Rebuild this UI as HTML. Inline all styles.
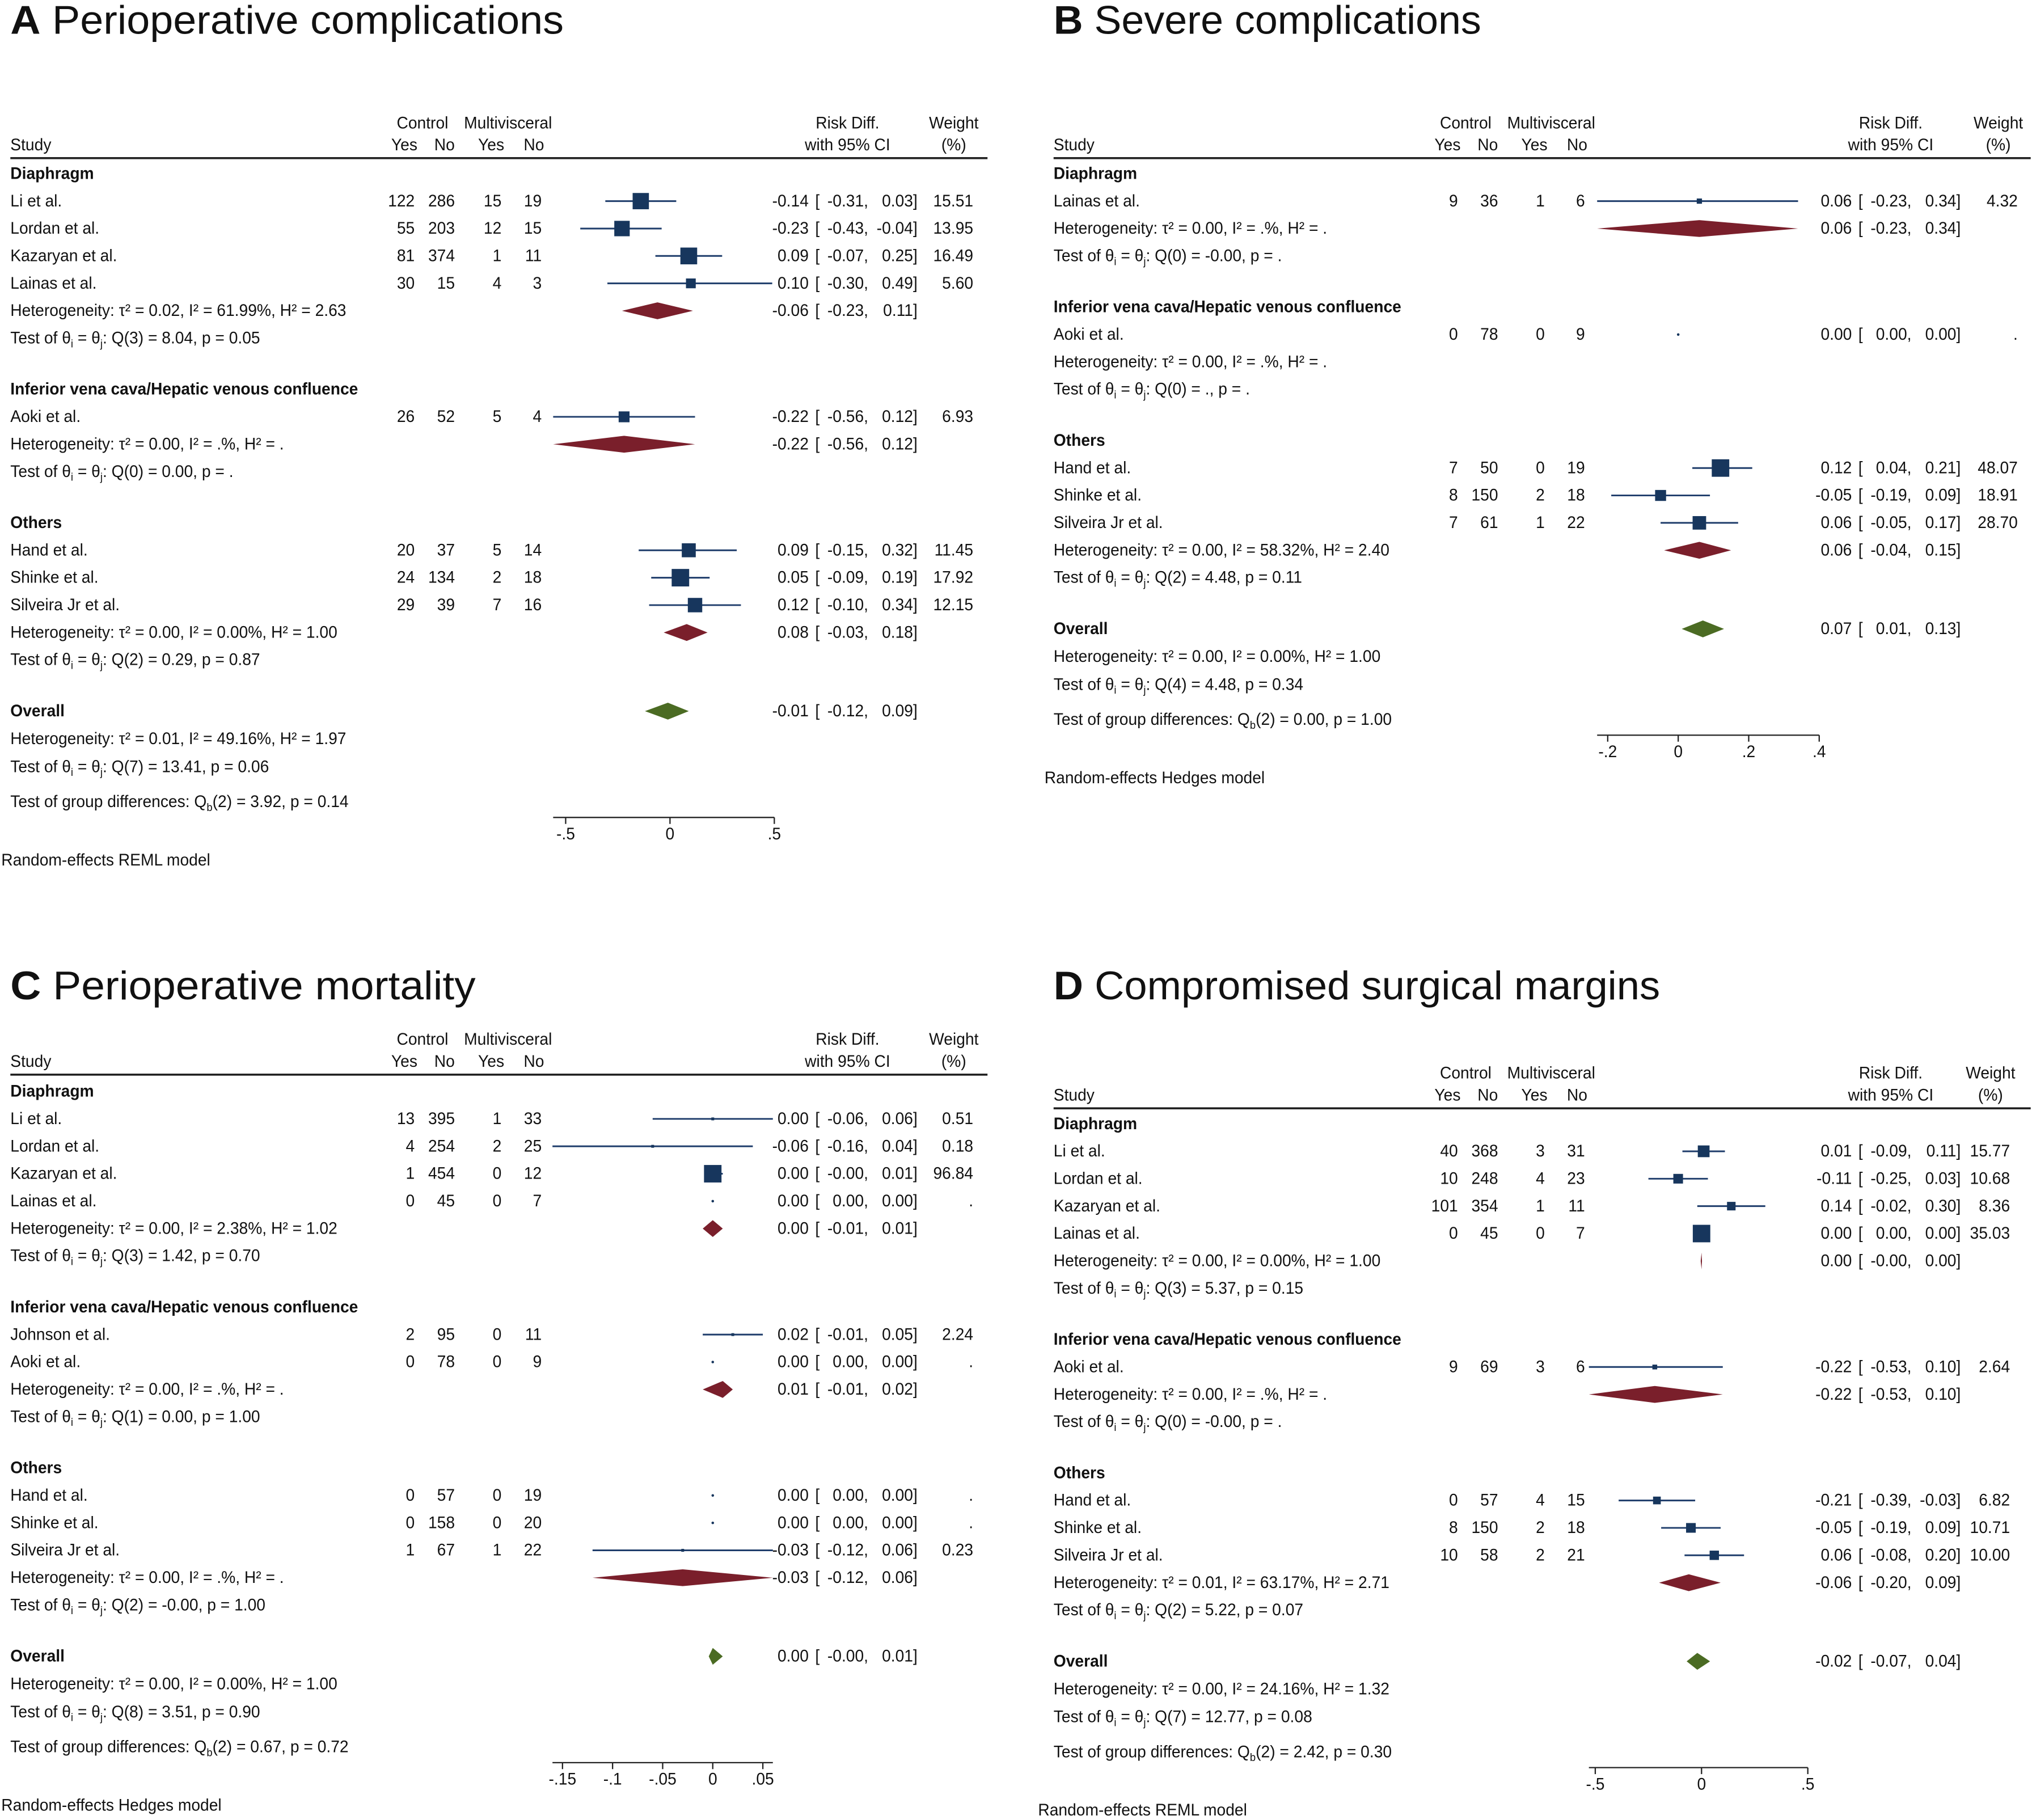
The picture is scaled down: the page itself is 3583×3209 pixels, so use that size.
<!DOCTYPE html>
<html><head><meta charset="utf-8"><style>
html,body{margin:0;padding:0;background:#fff;}
svg{display:block;}
text{font-family:"Liberation Sans",Arial,sans-serif;fill:#111;}
.title{font-family:"Liberation Sans",Arial,sans-serif;}
</style></head><body>
<svg id="chart" xmlns="http://www.w3.org/2000/svg" width="3583" height="3209" viewBox="0 0 1568 1404" preserveAspectRatio="none"></svg>
<script>
// ---------- Panel A data ----------
const A_studies=["Li et al.","Lordan et al.","Kazaryan et al.","Lainas et al.","Aoki et al.","Hand et al.","Shinke et al.","Silveira Jr et al."];
const A_group=[0,0,0,0,1,2,2,2];
const A_ctlYes=[122,55,81,30,26,20,24,29];
const A_ctlNo=[286,203,374,15,52,37,134,39];
const A_mvYes=[15,12,1,4,5,5,2,7];
const A_mvNo=[19,15,11,3,4,14,18,16];
const A_rd=[-0.14,-0.23,0.09,0.10,-0.22,0.09,0.05,0.12];
const A_lo=[-0.31,-0.43,-0.07,-0.30,-0.56,-0.15,-0.09,-0.10];
const A_hi=[0.03,-0.04,0.25,0.49,0.12,0.32,0.19,0.34];
const A_wt=[15.51,13.95,16.49,5.60,6.93,11.45,17.92,12.15];
const A_groupNames=["Diaphragm","Inferior vena cava/Hepatic venous confluence","Others"];
const A_grpRd=[-0.06,-0.22,0.08];
const A_grpLo=[-0.23,-0.56,-0.03];
const A_grpHi=[0.11,0.12,0.18];
const A_grpHet=["τ² = 0.02, I² = 61.99%, H² = 2.63","τ² = 0.00, I² = .%, H² = .","τ² = 0.00, I² = 0.00%, H² = 1.00"];
const A_grpTest=["Q(3) = 8.04, p = 0.05","Q(0) = 0.00, p = .","Q(2) = 0.29, p = 0.87"];
const A_overall=[-0.01,-0.12,0.09];
const A_overallHet="τ² = 0.01, I² = 49.16%, H² = 1.97";
const A_overallTest="Q(7) = 13.41, p = 0.06";
const A_groupDiff="(2) = 3.92, p = 0.14";
const A_model="Random-effects REML model";
const A_ticks=[-0.5,0,0.5];
const A_tickLabels=["-.5","0",".5"];

// ---------- Panel B data ----------
const B_studies=["Lainas et al.","Aoki et al.","Hand et al.","Shinke et al.","Silveira Jr et al."];
const B_group=[0,1,2,2,2];
const B_ctlYes=[9,0,7,8,7];
const B_ctlNo=[36,78,50,150,61];
const B_mvYes=[1,0,0,2,1];
const B_mvNo=[6,9,19,18,22];
const B_rd=[0.06,0.00,0.12,-0.05,0.06];
const B_lo=[-0.23,0.00,0.04,-0.19,-0.05];
const B_hi=[0.34,0.00,0.21,0.09,0.17];
const B_wt=[4.32,null,48.07,18.91,28.70];
const B_groupNames=["Diaphragm","Inferior vena cava/Hepatic venous confluence","Others"];
const B_grpRd=[0.06,null,0.06];
const B_grpLo=[-0.23,null,-0.04];
const B_grpHi=[0.34,null,0.15];
const B_grpHet=["τ² = 0.00, I² = .%, H² = .","τ² = 0.00, I² = .%, H² = .","τ² = 0.00, I² = 58.32%, H² = 2.40"];
const B_grpTest=["Q(0) = -0.00, p = .","Q(0) = ., p = .","Q(2) = 4.48, p = 0.11"];
const B_overall=[0.07,0.01,0.13];
const B_overallHet="τ² = 0.00, I² = 0.00%, H² = 1.00";
const B_overallTest="Q(4) = 4.48, p = 0.34";
const B_groupDiff="(2) = 0.00, p = 1.00";
const B_model="Random-effects Hedges model";
const B_ticks=[-0.2,0,0.2,0.4];
const B_tickLabels=["-.2","0",".2",".4"];

// ---------- Panel C data ----------
const C_studies=["Li et al.","Lordan et al.","Kazaryan et al.","Lainas et al.","Johnson et al.","Aoki et al.","Hand et al.","Shinke et al.","Silveira Jr et al."];
const C_group=[0,0,0,0,1,1,2,2,2];
const C_ctlYes=[13,4,1,0,2,0,0,0,1];
const C_ctlNo=[395,254,454,45,95,78,57,158,67];
const C_mvYes=[1,2,0,0,0,0,0,0,1];
const C_mvNo=[33,25,12,7,11,9,19,20,22];
const C_rd=[0.00,-0.06,0.00,0.00,0.02,0.00,0.00,0.00,-0.03];
const C_lo=[-0.06,-0.16,-0.004,0.00,-0.01,0.00,0.00,0.00,-0.12];
const C_hi=[0.06,0.04,0.01,0.00,0.05,0.00,0.00,0.00,0.06];
const C_wt=[0.51,0.18,96.84,null,2.24,null,null,null,0.23];
const C_groupNames=["Diaphragm","Inferior vena cava/Hepatic venous confluence","Others"];
const C_grpRd=[0.00,0.01,-0.03];
const C_grpLo=[-0.01,-0.01,-0.12];
const C_grpHi=[0.01,0.02,0.06];
const C_grpHet=["τ² = 0.00, I² = 2.38%, H² = 1.02","τ² = 0.00, I² = .%, H² = .","τ² = 0.00, I² = .%, H² = ."];
const C_grpTest=["Q(3) = 1.42, p = 0.70","Q(1) = 0.00, p = 1.00","Q(2) = -0.00, p = 1.00"];
const C_overall=[0.00,-0.004,0.01];
const C_overallHet="τ² = 0.00, I² = 0.00%, H² = 1.00";
const C_overallTest="Q(8) = 3.51, p = 0.90";
const C_groupDiff="(2) = 0.67, p = 0.72";
const C_model="Random-effects Hedges model";
const C_ticks=[-0.15,-0.1,-0.05,0,0.05];
const C_tickLabels=["-.15","-.1","-.05","0",".05"];

// ---------- Panel D data ----------
const D_studies=["Li et al.","Lordan et al.","Kazaryan et al.","Lainas et al.","Aoki et al.","Hand et al.","Shinke et al.","Silveira Jr et al."];
const D_group=[0,0,0,0,1,2,2,2];
const D_ctlYes=[40,10,101,0,9,0,8,10];
const D_ctlNo=[368,248,354,45,69,57,150,58];
const D_mvYes=[3,4,1,0,3,4,2,2];
const D_mvNo=[31,23,11,7,6,15,18,21];
const D_rd=[0.01,-0.11,0.14,0.00,-0.22,-0.21,-0.05,0.06];
const D_lo=[-0.09,-0.25,-0.02,0.00,-0.53,-0.39,-0.19,-0.08];
const D_hi=[0.11,0.03,0.30,0.00,0.10,-0.03,0.09,0.20];
const D_wt=[15.77,10.68,8.36,35.03,2.64,6.82,10.71,10.00];
const D_groupNames=["Diaphragm","Inferior vena cava/Hepatic venous confluence","Others"];
const D_grpRd=[0.00,-0.22,-0.06];
const D_grpLo=[-0.004,-0.53,-0.20];
const D_grpHi=[0.00,0.10,0.09];
const D_grpHet=["τ² = 0.00, I² = 0.00%, H² = 1.00","τ² = 0.00, I² = .%, H² = .","τ² = 0.01, I² = 63.17%, H² = 2.71"];
const D_grpTest=["Q(3) = 5.37, p = 0.15","Q(0) = -0.00, p = .","Q(2) = 5.22, p = 0.07"];
const D_overall=[-0.02,-0.07,0.04];
const D_overallHet="τ² = 0.00, I² = 24.16%, H² = 1.32";
const D_overallTest="Q(7) = 12.77, p = 0.08";
const D_groupDiff="(2) = 2.42, p = 0.30";
const D_model="Random-effects REML model";
const D_ticks=[-0.5,0,0.5];
const D_tickLabels=["-.5","0",".5"];

const NS="http://www.w3.org/2000/svg";
const svg=document.getElementById("chart");
const S=21.15, GAP=39.5, SX=0.95, FS=13;
const SQ="#17365d", CI="#1f3d6b", RED="#7a1f2b", GREEN="#4b6b23";

function mk(tag,attrs,name,parent){
  const e=document.createElementNS(NS,tag);
  for(const k in attrs) e.setAttribute(k,attrs[k]);
  
  
  (parent||svg).appendChild(e);
  return e;
}
function T(x,y,str,name,opt){
  opt=opt||{};
  const t=mk("text",{transform:`translate(${x},${y}) scale(${opt.sx||SX},1)`,"text-anchor":opt.anchor||"start","font-size":opt.size||FS,"font-weight":opt.bold?"bold":"normal"},name,opt.parent);
  t.textContent=str;
  return t;
}
function testText(x,y,rest,name,prefix,sub1,mid,sub2){
  const t=mk("text",{transform:`translate(${x},${y}) scale(${SX},1)`,"font-size":FS},name);
  const parts=[[prefix,0,FS],[sub1,3,8.5],[mid,-3,FS],[sub2,3,8.5],[rest,-3,FS]];
  parts.forEach(p=>{ if(p[0]===null) return; const s=document.createElementNS(NS,"tspan"); s.setAttribute("dy",p[1]); s.setAttribute("font-size",p[2]); s.textContent=p[0]; t.appendChild(s);});
  return t;
}
function f2(v){return v.toFixed(2);}

function drawPanel(c,d){
  const g=mk("g",{},"panel-"+c.id.toLowerCase());
  const ox=c.ox;
  const X=v=>c.x0+v*c.ppu;
  const tt=mk("text",{x:ox+8,y:c.titleY,"font-size":31,textLength:c.titleW,lengthAdjust:"spacingAndGlyphs",class:"title"},"panel-title",g);
  const tb=document.createElementNS(NS,"tspan"); tb.setAttribute("font-weight","bold"); tb.textContent=c.id; tt.appendChild(tb);
  const tr=document.createElementNS(NS,"tspan"); tr.textContent=" "+c.title; tt.appendChild(tr);
  const h1=c.headY, h2=c.headY+17;
  T(ox+326,h1,"Control","header-control",{anchor:"middle",parent:g});
  T(ox+392,h1,"Multivisceral","header-multivisceral",{anchor:"middle",parent:g});
  T(ox+8,h2,"Study","header-study",{parent:g});
  [["Yes",312],["No",343],["Yes",379],["No",412]].forEach(p=>T(ox+p[1],h2,p[0],"header-yes-no",{anchor:"middle",parent:g}));
  T(ox+654,h1,"Risk Diff.","header-risk-diff",{anchor:"middle",parent:g});
  T(ox+654,h2,"with 95% CI","header-ci",{anchor:"middle",parent:g});
  T(ox+c.wx-15,h1,"Weight","header-weight",{anchor:"middle",parent:g});
  T(ox+c.wx-15,h2,"(%)","header-weight-unit",{anchor:"middle",parent:g});
  mk("line",{x1:ox+8,x2:ox+762,y1:h2+6,y2:h2+6,stroke:"#222","stroke-width":1.6},"header-rule",g);

  const ws=d.wt.filter(w=>w!=null); const maxW=Math.max(...ws);
  function est(y,r,l,h,name){
    T(ox+624,y,f2(r),name+"-estimate",{anchor:"end",parent:g});
    T(ox+629,y,"[","bracket",{parent:g});
    T(ox+670,y,f2(l)+",","ci-lower",{anchor:"end",parent:g});
    T(ox+708,y,f2(h)+"]","ci-upper",{anchor:"end",parent:g});
  }
  function diamond(y,r,l,h,col,name){
    const xl=X(l), xr=Math.max(X(h),xl+1), xm=X(r), hh=6.5;
    mk("polygon",{points:`${xl},${y} ${xm},${y-hh} ${xr},${y} ${xm},${y+hh}`,fill:col},name,g);
  }
  let y=c.firstY;
  const cols=[320,351,387,418];
  for(let gi=0;gi<d.groupNames.length;gi++){
    T(ox+8,y+4,d.groupNames[gi],"group-label",{bold:true,parent:g});
    y+=S;
    for(let i=0;i<d.studies.length;i++){
      if(d.group[i]!==gi) continue;
      T(ox+8,y+4,d.studies[i],"study-name",{parent:g});
      [d.ctlYes[i],d.ctlNo[i],d.mvYes[i],d.mvNo[i]].forEach((v,k)=>T(ox+cols[k],y+4,String(v),"count-cell",{anchor:"end",parent:g}));
      if(d.hi[i]>d.lo[i]) mk("line",{x1:X(d.lo[i]),x2:X(d.hi[i]),y1:y,y2:y,stroke:CI,"stroke-width":1.3},"ci-line",g);
      if(d.wt[i]!=null){
        const s=Math.max(2.2,13.5*Math.sqrt(d.wt[i]/maxW));
        mk("rect",{x:X(d.rd[i])-s/2,y:y-s/2,width:s,height:s,fill:SQ},"study-marker",g);
      } else {
        mk("circle",{cx:X(d.rd[i]),cy:y,r:1,fill:SQ},"study-dot",g);
      }
      est(y+4,d.rd[i],d.lo[i],d.hi[i],"study");
      T(ox+c.wx,y+4,d.wt[i]==null?".":f2(d.wt[i]),"weight-cell",{anchor:"end",parent:g});
      y+=S;
    }
    T(ox+8,y+4,"Heterogeneity: "+d.grpHet[gi],"group-heterogeneity",{parent:g});
    if(d.grpRd[gi]!=null){ diamond(y,d.grpRd[gi],d.grpLo[gi],d.grpHi[gi],RED,"subgroup-diamond"); est(y+4,d.grpRd[gi],d.grpLo[gi],d.grpHi[gi],"subgroup"); }
    y+=S;
    testText(ox+8,y+4,": "+d.grpTest[gi],"group-homogeneity-test","Test of θ","i"," = θ","j");
    y+=GAP;
  }
  T(ox+8,y+4,"Overall","overall-label",{bold:true,parent:g});
  diamond(y,d.overall[0],d.overall[1],d.overall[2],GREEN,"overall-diamond");
  est(y+4,d.overall[0],d.overall[1],d.overall[2],"overall");
  y+=21.5; T(ox+8,y+4,"Heterogeneity: "+d.overallHet,"overall-heterogeneity",{parent:g});
  y+=21.5; testText(ox+8,y+4,": "+d.overallTest,"overall-homogeneity-test","Test of θ","i"," = θ","j");
  y+=27; testText(ox+8,y+4,d.groupDiff,"group-difference-test","Test of group differences: Q","b","",null);
  y+=12;
  const allLo=Math.min(...d.lo,...d.grpLo.filter(v=>v!=null),d.ticks[0]);
  const allHi=Math.max(...d.hi,...d.grpHi.filter(v=>v!=null),d.ticks[d.ticks.length-1]);
  mk("line",{x1:X(allLo),x2:X(allHi),y1:y,y2:y,stroke:"#222","stroke-width":1},"x-axis",g);
  d.ticks.forEach((v,k)=>{
    mk("line",{x1:X(v),x2:X(v),y1:y,y2:y+5,stroke:"#222","stroke-width":1},"x-tick",g);
    T(X(v),y+17,d.tickLabels[k],"x-tick-label",{anchor:"middle",parent:g});
  });
  T(ox+c.modelX,y+37,d.model,"model-note",{parent:g});
}

drawPanel({id:"A",title:"Perioperative complications",ox:0,titleY:26,titleW:427,headY:99,firstY:134,x0:517,ppu:161,wx:751,modelX:1},
 {studies:A_studies,group:A_group,ctlYes:A_ctlYes,ctlNo:A_ctlNo,mvYes:A_mvYes,mvNo:A_mvNo,rd:A_rd,lo:A_lo,hi:A_hi,wt:A_wt,groupNames:A_groupNames,grpRd:A_grpRd,grpLo:A_grpLo,grpHi:A_grpHi,grpHet:A_grpHet,grpTest:A_grpTest,overall:A_overall,overallHet:A_overallHet,overallTest:A_overallTest,groupDiff:A_groupDiff,model:A_model,ticks:A_ticks,tickLabels:A_tickLabels});
drawPanel({id:"B",title:"Severe complications",ox:805,titleY:26,titleW:330,headY:99,firstY:134,x0:1295,ppu:272,wx:752,modelX:1},
 {studies:B_studies,group:B_group,ctlYes:B_ctlYes,ctlNo:B_ctlNo,mvYes:B_mvYes,mvNo:B_mvNo,rd:B_rd,lo:B_lo,hi:B_hi,wt:B_wt,groupNames:B_groupNames,grpRd:B_grpRd,grpLo:B_grpLo,grpHi:B_grpHi,grpHet:B_grpHet,grpTest:B_grpTest,overall:B_overall,overallHet:B_overallHet,overallTest:B_overallTest,groupDiff:B_groupDiff,model:B_model,ticks:B_ticks,tickLabels:B_tickLabels});
drawPanel({id:"C",title:"Perioperative mortality",ox:0,titleY:771,titleW:359,headY:806,firstY:842,x0:550,ppu:773,wx:751,modelX:1},
 {studies:C_studies,group:C_group,ctlYes:C_ctlYes,ctlNo:C_ctlNo,mvYes:C_mvYes,mvNo:C_mvNo,rd:C_rd,lo:C_lo,hi:C_hi,wt:C_wt,groupNames:C_groupNames,grpRd:C_grpRd,grpLo:C_grpLo,grpHi:C_grpHi,grpHet:C_grpHet,grpTest:C_grpTest,overall:C_overall,overallHet:C_overallHet,overallTest:C_overallTest,groupDiff:C_groupDiff,model:C_model,ticks:C_ticks,tickLabels:C_tickLabels});
drawPanel({id:"D",title:"Compromised surgical margins",ox:805,titleY:771,titleW:468,headY:832,firstY:867,x0:1313,ppu:164,wx:746,modelX:-4},
 {studies:D_studies,group:D_group,ctlYes:D_ctlYes,ctlNo:D_ctlNo,mvYes:D_mvYes,mvNo:D_mvNo,rd:D_rd,lo:D_lo,hi:D_hi,wt:D_wt,groupNames:D_groupNames,grpRd:D_grpRd,grpLo:D_grpLo,grpHi:D_grpHi,grpHet:D_grpHet,grpTest:D_grpTest,overall:D_overall,overallHet:D_overallHet,overallTest:D_overallTest,groupDiff:D_groupDiff,model:D_model,ticks:D_ticks,tickLabels:D_tickLabels});
</script>
</body></html>
